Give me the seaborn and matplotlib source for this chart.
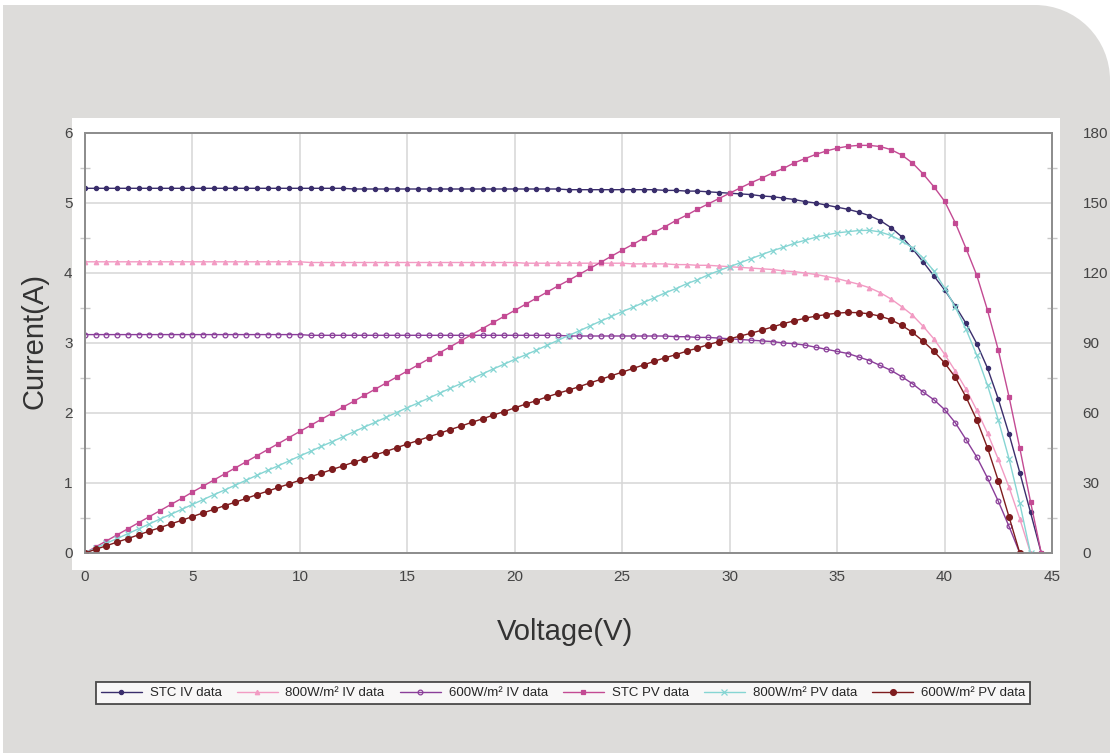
import numpy as np
import pandas as pd
import seaborn as sns
import matplotlib.pyplot as plt
from matplotlib.patches import Rectangle, Ellipse
from matplotlib.ticker import MultipleLocator

# ------------------------------------------------------------
# DATA (0.5 V steps)
# ------------------------------------------------------------
voltage = [
    0.0, 0.5, 1.0, 1.5, 2.0, 2.5, 3.0, 3.5, 4.0, 4.5,
    5.0, 5.5, 6.0, 6.5, 7.0, 7.5, 8.0, 8.5, 9.0, 9.5,
    10.0, 10.5, 11.0, 11.5, 12.0, 12.5, 13.0, 13.5, 14.0, 14.5,
    15.0, 15.5, 16.0, 16.5, 17.0, 17.5, 18.0, 18.5, 19.0, 19.5,
    20.0, 20.5, 21.0, 21.5, 22.0, 22.5, 23.0, 23.5, 24.0, 24.5,
    25.0, 25.5, 26.0, 26.5, 27.0, 27.5, 28.0, 28.5, 29.0, 29.5,
    30.0, 30.5, 31.0, 31.5, 32.0, 32.5, 33.0, 33.5, 34.0, 34.5,
    35.0, 35.5, 36.0, 36.5, 37.0, 37.5, 38.0, 38.5, 39.0, 39.5,
    40.0, 40.5, 41.0, 41.5, 42.0, 42.5, 43.0, 43.5, 44.0, 44.5,
]

stc_iv = [
    5.21, 5.21, 5.21, 5.21, 5.21, 5.21, 5.21, 5.21, 5.21, 5.21,
    5.21, 5.21, 5.21, 5.21, 5.21, 5.21, 5.21, 5.21, 5.21, 5.21,
    5.21, 5.21, 5.21, 5.21, 5.21, 5.20, 5.20, 5.20, 5.20, 5.20,
    5.20, 5.20, 5.20, 5.20, 5.20, 5.20, 5.20, 5.20, 5.20, 5.20,
    5.20, 5.20, 5.20, 5.20, 5.20, 5.19, 5.19, 5.19, 5.19, 5.19,
    5.19, 5.19, 5.19, 5.19, 5.18, 5.18, 5.17, 5.17, 5.16, 5.15,
    5.14, 5.13, 5.12, 5.10, 5.09, 5.07, 5.05, 5.02, 5.00, 4.97,
    4.94, 4.91, 4.87, 4.82, 4.75, 4.65, 4.52, 4.35, 4.16, 3.96,
    3.76, 3.53, 3.28, 2.99, 2.64, 2.20, 1.70, 1.15, 0.58, 0.00,
]

iv_800 = [
    4.16, 4.16, 4.16, 4.16, 4.16, 4.16, 4.16, 4.16, 4.16, 4.16,
    4.16, 4.16, 4.16, 4.16, 4.16, 4.16, 4.16, 4.16, 4.16, 4.16,
    4.16, 4.15, 4.15, 4.15, 4.15, 4.15, 4.15, 4.15, 4.15, 4.15,
    4.15, 4.15, 4.15, 4.15, 4.15, 4.15, 4.15, 4.15, 4.15, 4.15,
    4.15, 4.14, 4.14, 4.14, 4.14, 4.14, 4.14, 4.14, 4.14, 4.14,
    4.14, 4.13, 4.13, 4.13, 4.13, 4.12, 4.12, 4.11, 4.11, 4.10,
    4.09, 4.08, 4.07, 4.06, 4.05, 4.03, 4.02, 4.00, 3.98, 3.95,
    3.92, 3.88, 3.84, 3.79, 3.72, 3.63, 3.52, 3.40, 3.24, 3.06,
    2.84, 2.60, 2.34, 2.04, 1.71, 1.34, 0.94, 0.49, 0.00,
]

iv_600 = [
    3.12, 3.12, 3.12, 3.12, 3.12, 3.12, 3.12, 3.12, 3.12, 3.12,
    3.12, 3.12, 3.12, 3.12, 3.12, 3.12, 3.12, 3.12, 3.12, 3.12,
    3.12, 3.11, 3.11, 3.11, 3.11, 3.11, 3.11, 3.11, 3.11, 3.11,
    3.11, 3.11, 3.11, 3.11, 3.11, 3.11, 3.11, 3.11, 3.11, 3.11,
    3.11, 3.11, 3.11, 3.11, 3.11, 3.10, 3.10, 3.10, 3.10, 3.10,
    3.10, 3.10, 3.10, 3.10, 3.10, 3.09, 3.09, 3.08, 3.08, 3.07,
    3.06, 3.05, 3.04, 3.03, 3.02, 3.00, 2.99, 2.97, 2.94, 2.91,
    2.88, 2.85, 2.80, 2.75, 2.68, 2.61, 2.52, 2.42, 2.30, 2.19,
    2.05, 1.86, 1.62, 1.37, 1.07, 0.74, 0.38, 0.00,
]

stc_pv = [
    0.0, 2.6, 5.2, 7.8, 10.4, 13.0, 15.6, 18.2, 20.8, 23.4,
    26.1, 28.7, 31.3, 33.9, 36.5, 39.1, 41.7, 44.3, 46.9, 49.5,
    52.1, 54.7, 57.3, 59.9, 62.5, 65.0, 67.6, 70.2, 72.8, 75.4,
    78.0, 80.6, 83.2, 85.8, 88.4, 91.0, 93.6, 96.2, 98.8, 101.4,
    104.0, 106.6, 109.2, 111.8, 114.4, 116.8, 119.4, 122.0, 124.6, 127.2,
    129.8, 132.3, 134.9, 137.5, 139.9, 142.5, 144.8, 147.3, 149.6, 151.9,
    154.2, 156.5, 158.7, 160.7, 162.9, 164.8, 167.2, 169.0, 170.8, 172.3,
    173.5, 174.3, 174.7, 174.7, 174.2, 172.9, 170.6, 167.2, 162.5, 157.0,
    150.8, 141.5, 130.5, 119.0, 104.0, 87.0, 67.0, 45.0, 22.0, 0.0,
]

pv_800 = [
    0.0, 2.1, 4.2, 6.2, 8.3, 10.4, 12.5, 14.6, 16.6, 18.7,
    20.8, 22.9, 25.0, 27.0, 29.1, 31.2, 33.3, 35.4, 37.4, 39.5,
    41.6, 43.6, 45.7, 47.7, 49.8, 51.9, 54.0, 56.0, 58.1, 60.2,
    62.3, 64.3, 66.4, 68.5, 70.6, 72.6, 74.7, 76.8, 78.9, 80.9,
    83.0, 84.9, 86.9, 89.0, 91.1, 93.2, 95.2, 97.3, 99.4, 101.4,
    103.5, 105.3, 107.4, 109.4, 111.5, 113.3, 115.4, 117.1, 119.2, 121.0,
    122.7, 124.4, 126.2, 127.9, 129.6, 131.0, 132.7, 134.0, 135.3, 136.3,
    137.2, 137.7, 138.2, 138.3, 137.6, 136.1, 133.8, 130.9, 126.4, 120.9,
    113.6, 105.3, 95.9, 84.7, 71.8, 57.0, 40.4, 21.3, 0.0,
]

pv_600 = [
    0.0, 1.6, 3.1, 4.7, 6.2, 7.8, 9.4, 10.9, 12.5, 14.0,
    15.6, 17.2, 18.7, 20.3, 21.8, 23.4, 25.0, 26.5, 28.1, 29.6,
    31.2, 32.7, 34.2, 35.8, 37.3, 38.9, 40.4, 42.0, 43.5, 45.1,
    46.7, 48.2, 49.8, 51.3, 52.9, 54.4, 56.0, 57.5, 59.1, 60.6,
    62.2, 63.8, 65.3, 66.9, 68.4, 69.8, 71.3, 72.9, 74.4, 76.0,
    77.5, 79.1, 80.6, 82.2, 83.7, 85.0, 86.5, 87.8, 89.3, 90.6,
    91.8, 93.0, 94.2, 95.5, 96.9, 98.3, 99.5, 100.6, 101.5, 102.2,
    102.8, 103.1, 103.0, 102.5, 101.5, 100.0, 97.6, 94.6, 90.8, 86.5,
    81.5, 75.3, 66.8, 57.0, 45.0, 31.0, 15.5, 0.0,
]

labels = [
    "STC IV data", "800W/m\u00b2 IV data", "600W/m\u00b2 IV data",
    "STC PV data", "800W/m\u00b2 PV data", "600W/m\u00b2 PV data",
]

# ------------------------------------------------------------
# STYLE
# ------------------------------------------------------------
sns.set_theme(style="white")
plt.rcParams["font.family"] = ["Liberation Sans", "DejaVu Sans"]

W, H = 1110, 753
fig = plt.figure(figsize=(W / 100, H / 100), dpi=100)
fig.patch.set_facecolor("white")

# grey card with a rounded top-right corner, white panel behind the axes
card = "#DDDCDA"
fig.add_artist(Rectangle((3 / W, 0), 1, 1 - 5 / H, transform=fig.transFigure,
                         facecolor=card, edgecolor="none", zorder=-5))
fig.add_artist(Rectangle((1035 / W, 1 - 80 / H), 80 / W, 85 / H, transform=fig.transFigure,
                         facecolor="white", edgecolor="none", zorder=-4))
fig.add_artist(Ellipse((1035 / W, 1 - 80 / H), 150 / W, 150 / H, transform=fig.transFigure,
                       facecolor=card, edgecolor="none", zorder=-3))
fig.add_artist(Rectangle((72 / W, 1 - 570 / H), 988 / W, 452 / H, transform=fig.transFigure,
                         facecolor="white", edgecolor="none", zorder=-2))

ax = fig.add_axes([85 / W, 1 - 553 / H, 967 / W, 420 / H])
ax.set_facecolor("white")
ax2 = ax.twinx()

# ------------------------------------------------------------
# CURVES
# ------------------------------------------------------------
iv_series = [
    (stc_iv, "#3A2E6C", "o", 3.0, None),
    (iv_800, "#F29BC3", "^", 3.2, None),
    (iv_600, "#8A3E99", "o", 3.4, "none"),
]
pv_series = [
    (stc_pv, "#C34A93", "s", 2.4, None),
    (pv_800, "#86D5D3", "x", 4.0, None),
    (pv_600, "#7E1C1E", "o", 4.2, None),
]

for vals, col, mk, ms, mfc in iv_series:
    sns.lineplot(x=voltage[:len(vals)], y=vals, ax=ax, color=col, linewidth=1.0,
                 marker=mk, markersize=ms, markeredgecolor=col, markeredgewidth=0.9,
                 markerfacecolor=col if mfc is None else mfc,
                 errorbar=None, sort=False, legend=False)

for vals, col, mk, ms, mfc in pv_series:
    sns.lineplot(x=voltage[:len(vals)], y=vals, ax=ax2, color=col, linewidth=1.0,
                 marker=mk, markersize=ms, markeredgecolor=col, markeredgewidth=0.9,
                 markerfacecolor=col if mfc is None else mfc,
                 errorbar=None, sort=False, legend=False)

# ------------------------------------------------------------
# AXES
# ------------------------------------------------------------
ax.set_xlim(0, 45)
ax.set_ylim(0, 6)
ax2.set_ylim(0, 180)
ax.xaxis.set_major_locator(MultipleLocator(5))
ax.yaxis.set_major_locator(MultipleLocator(1))
ax.yaxis.set_minor_locator(MultipleLocator(0.5))
ax2.yaxis.set_major_locator(MultipleLocator(30))
ax2.yaxis.set_minor_locator(MultipleLocator(15))

ax.grid(True, which="major", color="#D6D6D6", linewidth=1.1)
ax.set_axisbelow(True)
ax2.grid(False)

for a in (ax, ax2):
    for s in a.spines.values():
        s.set_color("#8E8E8E")
        s.set_linewidth(1.3)

ax.tick_params(axis="x", which="major", length=0, pad=12, labelsize=11, labelcolor="#444444")
ax.tick_params(axis="y", which="major", length=0, pad=9, labelsize=11, labelcolor="#444444")
ax.tick_params(axis="y", which="minor", left=True, length=7, direction="inout",
               color="#C8C8C8", width=1)
ax2.tick_params(axis="y", which="major", length=0, pad=22, labelsize=11, labelcolor="#444444")
ax2.tick_params(axis="y", which="minor", right=True, length=7, direction="inout",
                color="#C8C8C8", width=1)

ax.set_xlabel("")
ax.set_ylabel("")
ax2.set_ylabel("")

fig.text(565 / W, 1 - 632 / H, "Voltage(V)", ha="center", va="center",
         fontsize=21, color="#333333")
fig.text(35 / W, 1 - 341 / H, "Current(A)", ha="center", va="center",
         rotation=90, fontsize=21, color="#333333")

# ------------------------------------------------------------
# LEGEND
# ------------------------------------------------------------
handles = list(ax.lines) + list(ax2.lines)
leg = fig.legend(handles, labels, loc="center", bbox_to_anchor=(563 / W, 1 - 693 / H),
                 ncol=6, frameon=True, fancybox=False, fontsize=9.5,
                 handlelength=3.1, handletextpad=0.6, columnspacing=1.15,
                 borderpad=0.35, numpoints=1)
leg.get_frame().set_edgecolor("#222222")
leg.get_frame().set_linewidth(1.3)
leg.get_frame().set_facecolor("white")

fig.savefig("out.png", dpi=100, facecolor=fig.get_facecolor())
